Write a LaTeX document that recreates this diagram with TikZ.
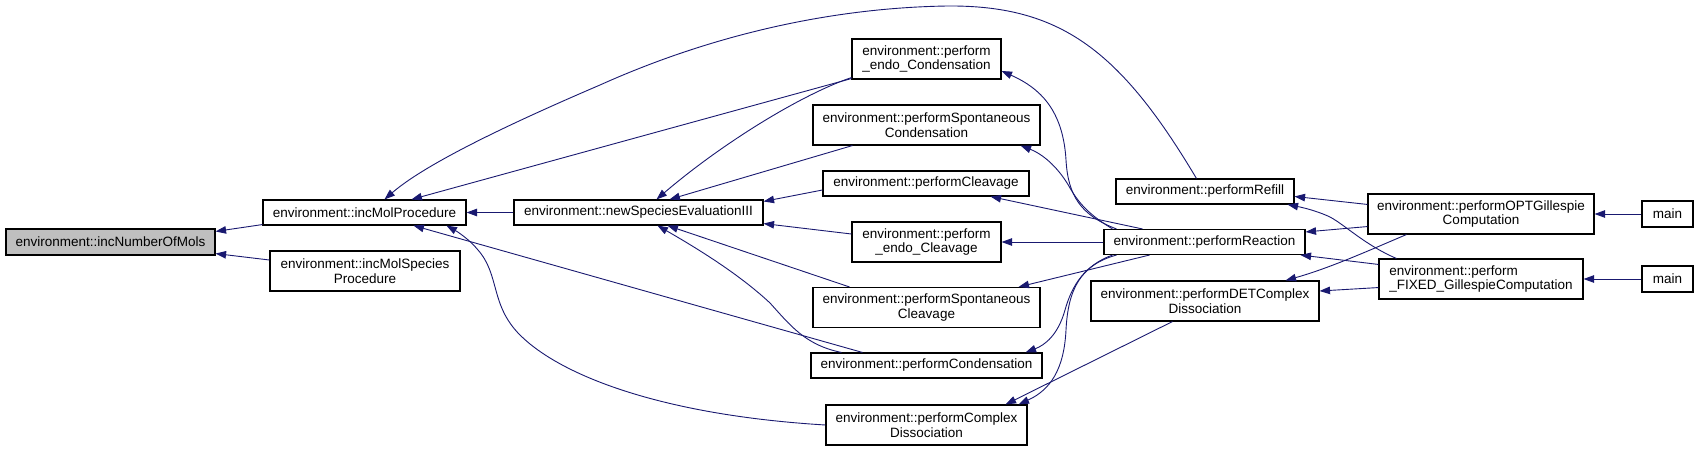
\documentclass[tikz,border=0pt]{standalone}
\usepackage{fontspec}
\setmainfont{Liberation Sans}
\usetikzlibrary{arrows.meta,calc}
\definecolor{edgeblue}{HTML}{191970}
\definecolor{rootgray}{HTML}{BFBFBF}
\begin{document}
\begin{tikzpicture}[x=1pt,y=-1pt,
  box/.style={draw=black, line width=1.1pt, fill=white, inner sep=0pt, align=center,
    font=\fontsize{13.5}{14.5}\selectfont},
  edge/.style={draw=edgeblue, line width=0.9pt, -{Triangle[length=10.5pt,width=7.5pt]}}]
\useasboundingbox (0,0) rectangle (1699,450);
% nodes
\node[box, fill=rootgray, minimum width=209, minimum height=26] (nm) at (110.5,242) {environment::incNumberOfMols};
\node[box, minimum width=203, minimum height=25] (imp) at (364.5,212.5) {environment::incMolProcedure};
\node[box, minimum width=190, minimum height=40] (imsp) at (365,271) {environment::incMolSpecies\\Procedure};
\node[box, minimum width=249, minimum height=25] (nse) at (638.5,212.5) {environment::newSpeciesEvaluationIII};
\node[box, minimum width=149, minimum height=40] (pec) at (926.5,59) {environment::perform\\\_endo\_Condensation};
\node[box, minimum width=227, minimum height=40] (psc) at (926.5,125) {environment::performSpontaneous\\Condensation};
\node[box, minimum width=206, minimum height=25] (pcl) at (926,183.5) {environment::performCleavage};
\node[box, minimum width=149, minimum height=40] (pecl) at (926.5,242) {environment::perform\\\_endo\_Cleavage};
\node[box, minimum width=227, minimum height=40] (pscl) at (926.5,307.5) {environment::performSpontaneous\\Cleavage};
\node[box, minimum width=231, minimum height=25] (pco) at (926.5,365.5) {environment::performCondensation};
\node[box, minimum width=201, minimum height=40] (pcd) at (926.5,425) {environment::performComplex\\Dissociation};
\node[box, minimum width=178, minimum height=25] (prf) at (1205,191.5) {environment::performRefill};
\node[box, minimum width=201, minimum height=25] (prx) at (1204.5,242) {environment::performReaction};
\node[box, minimum width=228, minimum height=40] (pdet) at (1205,301) {environment::performDETComplex\\Dissociation};
\node[box, minimum width=226, minimum height=40] (popt) at (1481,214) {environment::performOPTGillespie\\Computation};
\node[box, align=left, minimum width=204, minimum height=40] (pfix) at (1481,279) {environment::perform\\\_FIXED\_GillespieComputation};
\node[box, minimum width=51, minimum height=26] (m1) at (1667.5,214) {main};
\node[box, minimum width=51, minimum height=26] (m2) at (1667.5,279) {main};
% edges
\draw[edge] ($(imp.south west)+(0,-1)$) -- ($(nm.north east)+(0,3)$);
\draw[edge] ($(imsp.west)+(0,-11)$) -- ($(nm.south east)+(0,-2)$);
\draw[edge] (nse.west) -- (imp.east);
\draw[edge] ($(pec.south west)+(0,-1)$) -- ($(imp.north west)+(149,0)$);
\draw[edge] ($(prf.north west)+(81,0)$) .. controls (1120,50) and (1060,5) .. (947,6)
  .. controls (820,8) and (700,40) .. (600,85)
  .. controls (530,115) and (430,160) .. ($(imp.north west)+(122,0)$);
\draw[edge] ($(pco.north west)+(52,0)$) -- ($(imp.south west)+(151,0)$);
\draw[edge] (pcd.west) .. controls (660,415) and (560,375) .. (520,335)
  .. controls (490,305) and (500,275) .. (478,250)
  .. controls (470,240) and (458,232) .. ($(imp.south west)+(184,0)$);
\draw[edge] ($(pec.south west)+(0,-2)$) .. controls (800,95) and (720,145) .. ($(nse.north west)+(143,0)$);
\draw[edge] ($(psc.south west)+(40,0)$) -- ($(nse.north west)+(156,0)$);
\draw[edge] ($(pcl.west)+(0,6.5)$) -- ($(nse.north east)+(0,2)$);
\draw[edge] ($(pecl.west)+(0,-8)$) -- ($(nse.south east)+(0,-2)$);
\draw[edge] ($(pscl.north west)+(37,0)$) -- ($(nse.south west)+(154,0)$);
\draw[edge] ($(pco.north west)+(31,0)$) .. controls (805,345) and (790,325) .. (770,303)
  .. controls (740,275) and (700,250) .. ($(nse.south west)+(144,0)$);
\draw[edge] ($(prx.north west)+(13,0)$) .. controls (1080,215) and (1068,195) .. (1066,160)
  .. controls (1063,110) and (1040,88) .. ($(pec.east)+(0,12)$);
\draw[edge] ($(prx.north west)+(9,0)$) .. controls (1090,215) and (1080,205) .. (1070,188)
  .. controls (1060,170) and (1045,155) .. ($(psc.south east)+(-20,0)$);
\draw[edge] ($(prx.north west)+(39,0)$) -- ($(pcl.south east)+(-39,0)$);
\draw[edge] (prx.west) -- (pecl.east);
\draw[edge] ($(prx.south west)+(46,0)$) -- ($(pscl.north east)+(-22,0)$);
\draw[edge] ($(prx.south west)+(9,0)$) .. controls (1085,265) and (1072,285) .. (1065,310)
  .. controls (1058,335) and (1045,345) .. ($(pco.north east)+(-17,0)$);
\draw[edge] ($(prx.south west)+(13,0)$) .. controls (1080,265) and (1068,290) .. (1066,330)
  .. controls (1064,370) and (1050,390) .. ($(pcd.north east)+(-9,0)$);
\draw[edge] ($(pdet.south west)+(82,0)$) -- ($(pcd.north east)+(-22,0)$);
\draw[edge] ($(popt.north west)+(0,11)$) -- ($(prf.north east)+(0,18)$);
\draw[edge] ($(popt.south west)+(0,-8)$) -- ($(prx.north east)+(0,3)$);
\draw[edge] ($(pfix.north west)+(18,0)$) .. controls (1365,245) and (1345,225) .. (1330,217)
  .. controls (1315,210) and (1300,207) .. ($(prf.south east)+(-7,0)$);
\draw[edge] ($(pfix.north west)+(0,6)$) -- ($(prx.south east)+(-5,0)$);
\draw[edge] ($(popt.south west)+(39,0)$) .. controls (1370,250) and (1330,268) .. ($(pdet.north east)+(-34,0)$);
\draw[edge] ($(pfix.south west)+(0,-12)$) -- ($(pdet.east)+(0,-10)$);
\draw[edge] (m1.west) -- (popt.east);
\draw[edge] (m2.west) -- (pfix.east);
\end{tikzpicture}
\end{document}
